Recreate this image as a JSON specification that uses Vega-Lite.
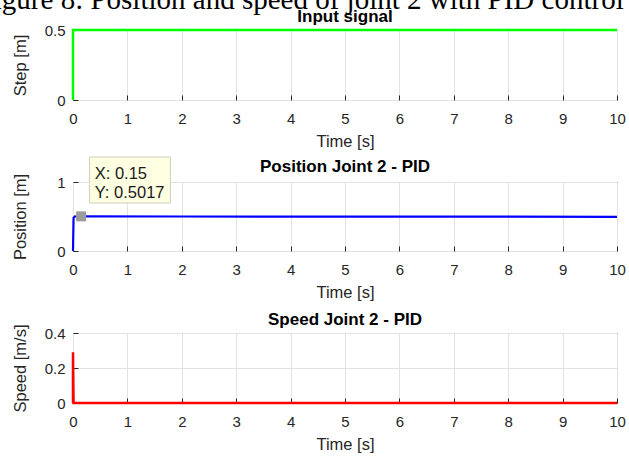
{
  "$schema": "https://vega.github.io/schema/vega-lite/v6.json",
  "autosize": {"type": "none"},
  "padding": {"left": 73, "top": 30, "right": 556, "bottom": 426},
  "background": "white",
  "title": {
    "text": "Figure 8: Position and speed of joint 2 with PID control",
    "font": "Liberation Serif",
    "fontSize": 29,
    "fontWeight": "normal",
    "color": "#000000",
    "anchor": "middle",
    "baseline": "alphabetic",
    "offset": -30,
    "dx": -18
  },
  "datasets": {
    "step": [
      {"t": 0, "v": 0, "i": 0},
      {"t": 0, "v": 0.5, "i": 1},
      {"t": 10, "v": 0.5, "i": 2}
    ],
    "position": [
      {"t": 0, "v": 0, "i": 0},
      {"t": 0.01, "v": 0.48, "i": 1},
      {"t": 0.03, "v": 0.5, "i": 2},
      {"t": 0.15, "v": 0.5017, "i": 3},
      {"t": 2, "v": 0.5, "i": 4},
      {"t": 5, "v": 0.498, "i": 5},
      {"t": 10, "v": 0.496, "i": 6}
    ],
    "speed": [
      {"t": 0, "v": 0, "i": 0},
      {"t": 0, "v": 0.29, "i": 1},
      {"t": 0.01, "v": 0, "i": 2},
      {"t": 10, "v": 0, "i": 3}
    ],
    "tip": [
      {"x0": 0.305, "x1": 1.79, "y0": 1.362, "y1": 0.696}
    ]
  },
  "vconcat": [
    {
      "title": {"text": "Input signal", "offset": -3},
      "width": 544,
      "height": 70,
      "data": {"name": "step"},
      "mark": {"type": "line", "color": "#00ff00", "strokeWidth": 2.5},
      "encoding": {
        "x": {"field": "t", "type": "quantitative", "scale": {"domain": [0, 10], "nice": false}, "axis": {"values": [0,1,2,3,4,5,6,7,8,9,10], "title": "Time [s]"}},
        "y": {"field": "v", "type": "quantitative", "scale": {"domain": [0, 0.5], "nice": false, "zero": false}, "axis": {"values": [0, 0.5], "format": "~g", "title": "Step [m]", "titleY": 35}},
        "order": {"field": "i"}
      }
    },
    {
      "title": {"text": "Position Joint 2 - PID", "offset": -19},
      "width": 544,
      "height": 69,
      "layer": [
        {
          "data": {"name": "position"},
          "mark": {"type": "line", "color": "#0000ff", "strokeWidth": 2.2},
          "encoding": {
            "x": {"field": "t", "type": "quantitative", "scale": {"domain": [0, 10], "nice": false}, "axis": {"values": [0,1,2,3,4,5,6,7,8,9,10], "title": "Time [s]"}},
            "y": {"field": "v", "type": "quantitative", "scale": {"domain": [0, 1], "nice": false}, "axis": {"values": [0, 0.5, 1], "format": "~g", "title": "Position [m]", "titleY": 34.5}},
            "order": {"field": "i"}
          }
        },
        {
          "data": {"name": "position"},
          "transform": [{"filter": "datum.t == 0.15"}],
          "mark": {"type": "point", "shape": "square", "size": 100, "filled": true, "color": "#9c9c9c", "opacity": 1},
          "encoding": {
            "x": {"field": "t", "type": "quantitative"},
            "y": {"field": "v", "type": "quantitative"}
          }
        },
        {
          "data": {"name": "tip"},
          "mark": {"type": "rect", "fill": "#ffffe1", "stroke": "#cfcfbf", "strokeWidth": 1},
          "encoding": {
            "x": {"field": "x0", "type": "quantitative"},
            "x2": {"field": "x1"},
            "y": {"field": "y0", "type": "quantitative"},
            "y2": {"field": "y1"}
          }
        },
        {
          "data": {"name": "tip"},
          "mark": {"type": "text", "text": "X: 0.15", "align": "left", "baseline": "middle", "font": "Liberation Sans", "fontSize": 16.5, "color": "#1a1a1a"},
          "encoding": {
            "x": {"datum": 0.4, "type": "quantitative"},
            "y": {"datum": 1.12, "type": "quantitative"}
          }
        },
        {
          "data": {"name": "tip"},
          "mark": {"type": "text", "text": "Y: 0.5017", "align": "left", "baseline": "middle", "font": "Liberation Sans", "fontSize": 16.5, "color": "#1a1a1a"},
          "encoding": {
            "x": {"datum": 0.4, "type": "quantitative"},
            "y": {"datum": 0.84, "type": "quantitative"}
          }
        }
      ]
    },
    {
      "title": {"text": "Speed Joint 2 - PID"},
      "width": 544,
      "height": 70,
      "data": {"name": "speed"},
      "mark": {"type": "line", "color": "#ff0000", "strokeWidth": 2.5},
      "encoding": {
        "x": {"field": "t", "type": "quantitative", "scale": {"domain": [0, 10], "nice": false}, "axis": {"values": [0,1,2,3,4,5,6,7,8,9,10], "title": "Time [s]"}},
        "y": {"field": "v", "type": "quantitative", "scale": {"domain": [0, 0.4], "nice": false}, "axis": {"values": [0, 0.2, 0.4], "format": "~g", "title": "Speed [m/s]", "titleY": 35}},
        "order": {"field": "i"}
      }
    }
  ],
  "spacing": 82,
  "bounds": "flush",
  "config": {
    "view": {"stroke": "#262626", "strokeWidth": 1},
    "font": "Liberation Sans",
    "title": {"font": "Liberation Sans", "fontSize": 17, "fontWeight": "bold", "color": "#000000", "anchor": "middle", "baseline": "alphabetic", "offset": -5},
    "axis": {
      "labelFont": "Liberation Sans",
      "labelFontSize": 15,
      "labelColor": "#262626",
      "titleFont": "Liberation Sans",
      "titleFontSize": 16.5,
      "titleFontWeight": "normal",
      "titleColor": "#262626",
      "grid": true,
      "gridColor": "#e2e2e2",
      "gridOpacity": 1,
      "gridWidth": 1,
      "domain": false,
      "ticks": true,
      "tickColor": "#262626",
      "tickSize": -5,
      "tickWidth": 1,
      "labelFlush": false,
      "labelOverlap": false,
      "labelBound": false
    },
    "axisX": {"labelPadding": 16, "titleY": 33, "titleBaseline": "top"},
    "axisY": {"labelPadding": 13, "titleX": -45}
  }
}
